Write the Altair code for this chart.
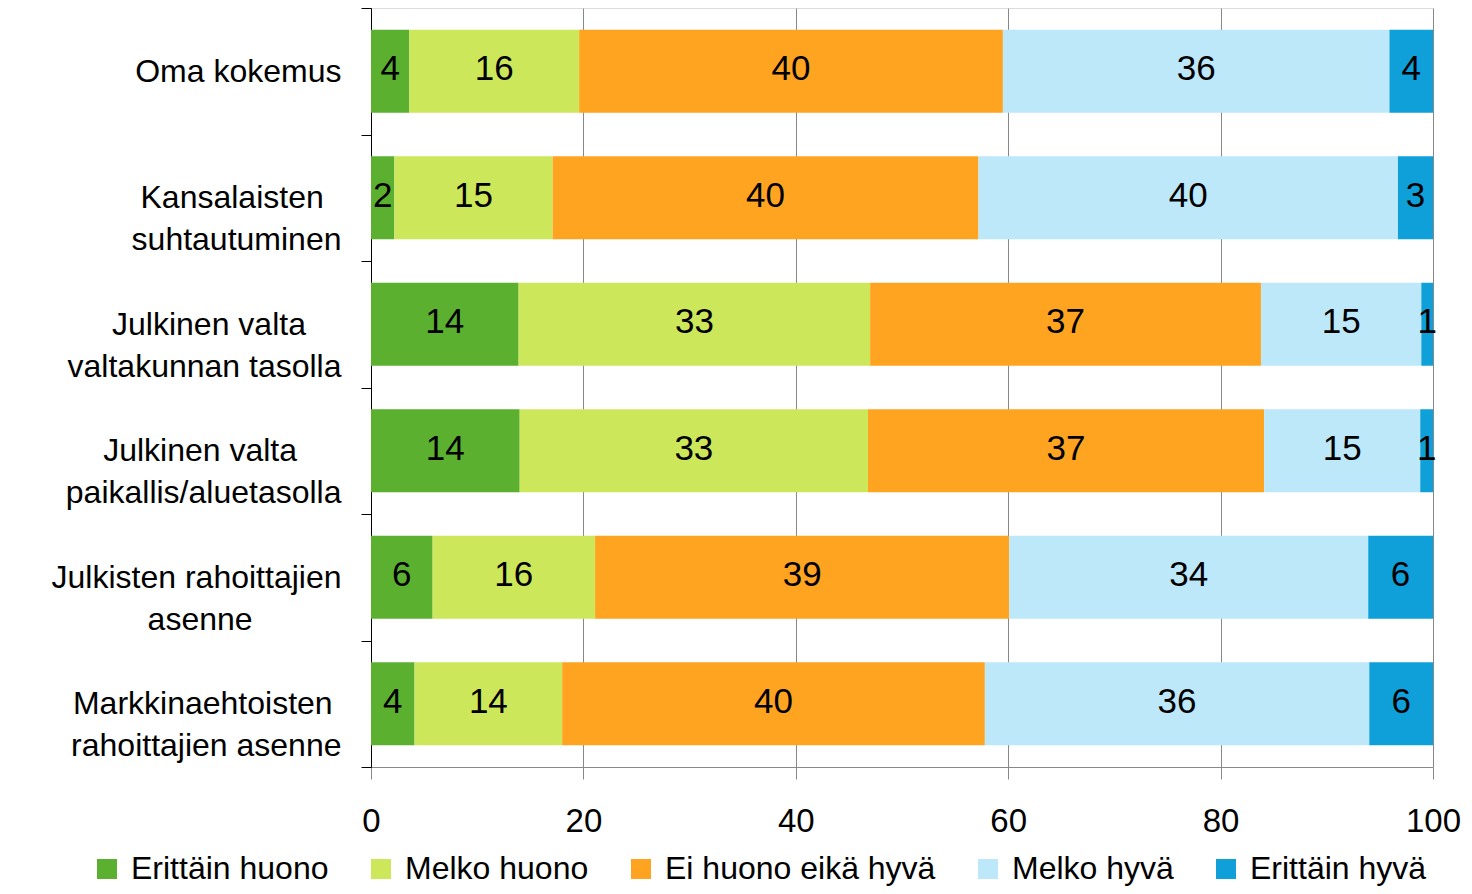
import json
import altair as alt
import pandas as pd

# ---------------- data ----------------
categories = [
    "Oma kokemus",
    "Kansalaisten suhtautuminen",
    "Julkinen valta valtakunnan tasolla",
    "Julkinen valta paikallis/aluetasolla",
    "Julkisten rahoittajien asenne",
    "Markkinaehtoisten rahoittajien asenne",
]
category_lines = [
    ["Oma kokemus"],
    ["Kansalaisten", "suhtautuminen"],
    ["Julkinen valta", "valtakunnan tasolla"],
    ["Julkinen valta", "paikallis/aluetasolla"],
    ["Julkisten rahoittajien", "asenne"],
    ["Markkinaehtoisten", "rahoittajien asenne"],
]
series = ["Erittäin huono", "Melko huono", "Ei huono eikä hyvä", "Melko hyvä", "Erittäin hyvä"]
colors = ["#5BB030", "#CDE75A", "#FFA420", "#BDE8FA", "#0FA0DA"]

erittain_huono = [3.6, 2.2, 13.9, 14.0, 5.8, 4.1]
melko_huono = [16.0, 14.9, 33.1, 32.8, 15.3, 13.9]
ei_huono_eika_hyva = [39.9, 40.1, 36.8, 37.3, 39.0, 39.8]
melko_hyva = [36.4, 39.5, 15.1, 14.7, 33.8, 36.2]
erittain_hyva = [4.1, 3.3, 1.1, 1.2, 6.1, 6.0]

labels_erittain_huono = [4, 2, 14, 14, 6, 4]
labels_melko_huono = [16, 15, 33, 33, 16, 14]
labels_ei_huono = [40, 40, 37, 37, 39, 40]
labels_melko_hyva = [36, 40, 15, 15, 34, 36]
labels_erittain_hyva = [4, 3, 1, 1, 6, 6]

x_ticks = [0, 20, 40, 60, 80, 100]

values = [erittain_huono, melko_huono, ei_huono_eika_hyva, melko_hyva, erittain_hyva]
labels = [labels_erittain_huono, labels_melko_huono, labels_ei_huono,
          labels_melko_hyva, labels_erittain_hyva]

rows = []
for si, s in enumerate(series):
    for ci, c in enumerate(categories):
        rows.append({"cat": c, "series": s, "idx": si,
                     "value": values[si][ci], "label": str(labels[si][ci])})
df = pd.DataFrame(rows)

# ---- centre the lines of each two-line axis label (Arial/Liberation metrics) ----
W = {"a": 556, "b": 556, "c": 500, "d": 556, "e": 556, "f": 278, "g": 556, "h": 556,
     "i": 222, "j": 222, "k": 500, "l": 222, "m": 833, "n": 556, "o": 556, "p": 556,
     "q": 556, "r": 333, "s": 500, "t": 278, "u": 556, "v": 500, "w": 722, "x": 500,
     "y": 500, "z": 500, " ": 278, "/": 278, "ä": 556,
     "O": 778, "K": 667, "J": 500, "M": 833}


def tw(s):
    return sum(W.get(ch, 556) for ch in s)


NBSP = "\u00a0"
WJ = "\u2060"  # word joiner keeps the trailing padding from being dropped
label_map = {}
for c, lines in zip(categories, category_lines):
    mw = max(tw(l) for l in lines)
    out = []
    for l in lines:
        n = int(round((mw - tw(l)) / 2 / 278))
        out.append(l + (NBSP * n + WJ if n > 0 else ""))
    label_map[c] = out

label_expr = json.dumps(label_map, ensure_ascii=False) + "[datum.value]"

FONT = "Liberation Sans"

y_enc = alt.Y(
    "cat:N",
    sort=categories,
    scale=alt.Scale(paddingInner=0, paddingOuter=0),
    axis=alt.Axis(
        title=None,
        labelExpr=label_expr,
        labelFont=FONT,
        labelFontSize=32,
        labelColor="#000000",
        labelAlign="right",
        labelBaseline="middle",
        labelLineHeight=42,
        labelPadding=20,
        labelLimit=0,
        tickBand="extent",
        tickSize=10,
        tickColor="#000000",
        domainColor="#000000",
        domainWidth=1,
        grid=False,
    ),
)

x_scale = alt.Scale(domain=[0, 100], nice=False)
x_axis = alt.Axis(
    title=None,
    values=x_ticks,
    labelFont=FONT,
    labelFontSize=33,
    labelColor="#000000",
    labelPadding=26,
    labelFlush=False,
    tickSize=12,
    tickColor="#888888",
    domainColor="#888888",
    grid=True,
    gridColor="#888888",
    gridWidth=1,
)

base = alt.Chart(df).transform_stack(
    stack="value", as_=["x0", "x1"], groupby=["cat"], sort=[alt.SortField("idx")]
)

bars = base.mark_bar(height=alt.RelativeBandSize(0.656)).encode(
    y=y_enc,
    x=alt.X("x0:Q", scale=x_scale, axis=x_axis),
    x2="x1:Q",
    color=alt.Color(
        "series:N",
        sort=series,
        scale=alt.Scale(domain=series, range=colors),
        legend=alt.Legend(
            title=None,
            orient="none",
            legendX=-280,
            legendY=845,
            direction="horizontal",
            symbolType="square",
            symbolSize=400,
            symbolStrokeWidth=0,
            labelFont=FONT,
            labelFontSize=32,
            labelColor="#000000",
            labelOffset=8,
            columnPadding=36,
            labelLimit=0,
            padding=0,
        ),
    ),
)

text = base.transform_calculate(mid="(datum.x0 + datum.x1) / 2").mark_text(
    font=FONT, fontSize=35, color="#000000", baseline="middle", align="center", dy=-2
).encode(
    y=y_enc,
    x=alt.X("mid:Q", scale=x_scale, axis=x_axis),
    text="label:N",
)

chart = (
    alt.layer(bars, text)
    .properties(
        width=1062,
        height=759,
        autosize=alt.AutoSizeParams(type="none"),
        padding={"left": 363, "top": 0, "right": 30, "bottom": 119},
    )
    .configure_view(stroke="#888888", strokeWidth=1)
    .configure(background="#ffffff")
)

chart.save("out.html", embed_options={"renderer": "svg", "actions": False})
